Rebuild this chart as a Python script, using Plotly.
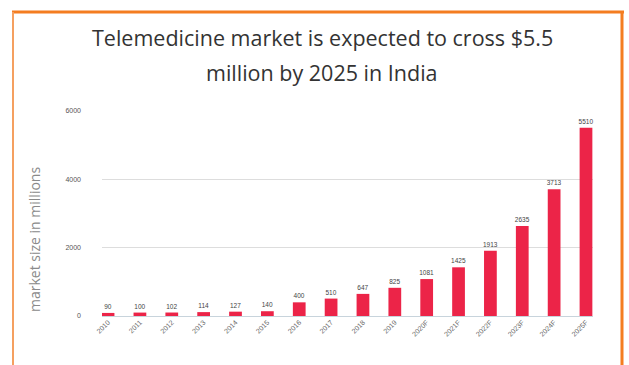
import plotly.graph_objects as go

years = ["2010", "2011", "2012", "2013", "2014", "2015", "2016", "2017", "2018", "2019",
         "2020F", "2021F", "2022F", "2023F", "2024F", "2025F"]
market_size = [90, 100, 102, 114, 127, 140, 400, 510, 647, 825, 1081, 1425, 1913, 2635, 3713, 5510]
y_ticks = [0, 2000, 4000, 6000]
title_lines = ["Telemedicine market is expected to cross $5.5", "million by 2025 in India"]

W, H = 629, 365
L, R, T, B = 102, 593, 111, 316

def px(x):
    return (x - L) / (R - L)

def py(y):
    return (B - y) / (B - T)

fig = go.Figure()
fig.add_trace(go.Bar(
    x=list(range(len(years))), y=market_size,
    width=0.4,
    marker=dict(color="#EC2448", line=dict(width=0)),
    text=[str(v) for v in market_size], textposition="outside",
    constraintext="none",
    textfont=dict(size=6.5, color="#444444", family="Liberation Sans"),
    cliponaxis=False,
))

fig.update_layout(
    width=W, height=H,
    margin=dict(l=L, r=W - R, t=T, b=H - B),
    paper_bgcolor="white", plot_bgcolor="white",
    showlegend=False,
    xaxis=dict(
        tickmode="array", tickvals=list(range(len(years))), ticktext=years,
        range=[-0.19, 15.22], tickangle=-45,
        tickfont=dict(size=7, color="#666666", family="Liberation Sans"),
        showgrid=False, zeroline=False, showline=False, ticks="",
    ),
    yaxis=dict(
        range=[0, 6000], tickvals=y_ticks,
        tickfont=dict(size=7, color="#555555", family="Liberation Sans"),
        showgrid=True, gridcolor="#DDDDDD", gridwidth=1,
        zeroline=True, zerolinecolor="#C8D4DC", zerolinewidth=1,
        ticklabelstandoff=20, ticks="",
    ),
    font=dict(family="Liberation Sans"),
)

for line, yc in zip(title_lines, [38, 72]):
    fig.add_annotation(
        text=line,
        xref="paper", yref="paper", x=px(322), y=py(yc), xanchor="center", yanchor="middle",
        showarrow=False,
        font=dict(size=21.5, color="#333333", family="Open Sans"),
    )
fig.add_annotation(
    text="market size in millions", textangle=-90,
    xref="paper", yref="paper", x=px(34), y=py(240), xanchor="center", yanchor="middle",
    showarrow=False, font=dict(size=14, color="#8A8A8A", family="Open Sans"),
)

# orange frame
frame = "#F47D20"
fig.add_shape(type="line", xref="paper", yref="paper", x0=px(12), x1=px(624), y0=py(12), y1=py(12),
              line=dict(color=frame, width=3))
fig.add_shape(type="line", xref="paper", yref="paper", x0=px(13), x1=px(13), y0=py(12), y1=py(366),
              line=dict(color="#F5A060", width=2))
fig.add_shape(type="line", xref="paper", yref="paper", x0=px(622), x1=px(622), y0=py(12), y1=py(366),
              line=dict(color=frame, width=3))

fig.write_html("out.html")
